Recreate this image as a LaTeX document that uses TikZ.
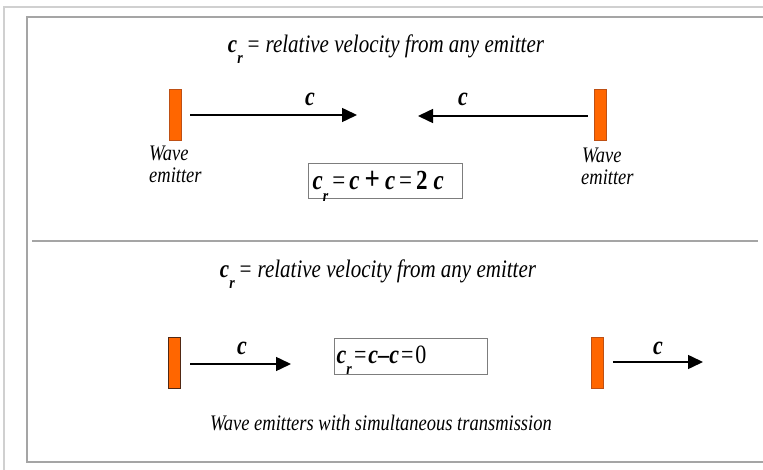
\documentclass[tikz,border=0pt]{standalone}
\usepackage{fontspec}
\setmainfont{Liberation Serif}
\usetikzlibrary{arrows.meta}
\definecolor{emfill}{RGB}{255,102,0}
\definecolor{emdraw}{RGB}{190,80,20}
\definecolor{emdark}{RGB}{80,40,20}
\definecolor{framea}{RGB}{208,208,208}
\definecolor{frameb}{RGB}{165,165,165}
\definecolor{boxline}{RGB}{125,125,125}
\newcommand\bic{\textbf{\textit{c}}}
\newcommand\crsym{\bic\raisebox{-0.42em}{\fontsize{14}{14}\selectfont\textbf{\textit{r}}}}
\newcommand\vs[1]{\scalebox{1}[1.2]{#1}}
\tikzset{
  emitter/.style={draw=emdraw, fill=emfill, line width=0.8pt, minimum width=12pt, minimum height=51pt, inner sep=0pt},
  arr/.style={line width=1.5pt, -{Triangle[length=15pt,width=14pt]}},
  clabel/.style={font=\fontsize{22}{24}\selectfont\bfseries\itshape, inner sep=0pt},
  titletext/.style={font=\fontsize{21}{24}\selectfont\itshape, inner sep=0pt},
  wlabel/.style={font=\fontsize{18.5}{22}\selectfont\itshape, inner sep=0pt, anchor=west},
  eqbox/.style={draw=boxline, line width=1pt, inner sep=0pt},
  eqtext/.style={anchor=west, inner sep=0pt, font=\fontsize{22}{24}\selectfont},
  captext/.style={font=\fontsize{18.5}{22}\selectfont\itshape, inner sep=0pt}
}
\begin{document}
\begin{tikzpicture}[x=1pt,y=-1pt]
\useasboundingbox (0,0) rectangle (763,470);
\fill[white] (0,0) rectangle (763,470);
% frames
\draw[framea, line width=1.6pt] (4,470) -- (4,7) -- (763,7);
\draw[frameb, line width=1.4pt] (763,17) -- (27,17) -- (27,462) -- (763,462);
\draw[frameb, line width=1.2pt] (32,241) -- (758,241);
% ---------- top part ----------
\node[titletext] (t1) at (386,49) {\vs{\crsym\,= relative velocity from any emitter}};
\node[emitter] (e1) at (175,115) {};
\node[emitter] (e2) at (600,115) {};
\coordinate (h1) at (357,115);
\coordinate (h2) at (418,116);
\draw[arr, shorten <=9pt] (e1.east) -- (h1);
\draw[arr, shorten <=6pt] (e2.west |- h2) -- (h2);
\node[clabel] (c1) at (310,99) {\vs{c}};
\node[clabel] (c2) at (463,99) {\vs{c}};
\node[wlabel] (w1) at (149,153) {\vs{Wave}};
\node[wlabel] (m1) at (149,175) {\vs{emitter}};
\node[wlabel] (w2) at (582,155) {\vs{Wave}};
\node[wlabel] (m2) at (581,177) {\vs{emitter}};
\node[eqbox, minimum width=154pt, minimum height=35pt] (b1) at (385,181.5) {};
\node[eqtext, font=\fontsize{23}{24}\selectfont] (q1) at ([xshift=5pt,yshift=-5pt]b1.west) {\vs{\crsym\hspace{4pt}=\hspace{4pt}\bic\hspace{5pt}{\bfseries\fontsize{27}{27}\selectfont +}\hspace{5pt}\bic\hspace{4pt}=\hspace{4pt}\textbf{2}\hspace{6pt}\bic}};
% ---------- bottom part ----------
\node[titletext] (t2) at (378,274) {\vs{\crsym\,= relative velocity from any emitter}};
\node[emitter, draw=emdark] (e3) at (174,363) {};
\node[emitter] (e4) at (597.5,363) {};
\coordinate (h3) at (291,364);
\coordinate (h4) at (703,362);
\draw[arr, shorten <=10pt] (e3.east |- h3) -- (h3);
\draw[arr, shorten <=9pt] (e4.east |- h4) -- (h4);
\node[clabel] (c3) at (242,348) {\vs{c}};
\node[clabel] (c4) at (658,348) {\vs{c}};
\node[eqbox, minimum width=153pt, minimum height=36pt] (b2) at (410.5,356) {};
\node[eqtext] (q2) at ([xshift=3pt,yshift=-4pt]b2.west) {\vs{\crsym\hspace{2pt}=\hspace{2pt}\bic{\bfseries\textendash}\bic\hspace{2pt}=\hspace{2pt}0}};
\node[captext] (cap) at (381,423) {\vs{Wave emitters with simultaneous transmission}};
\end{tikzpicture}
\end{document}
